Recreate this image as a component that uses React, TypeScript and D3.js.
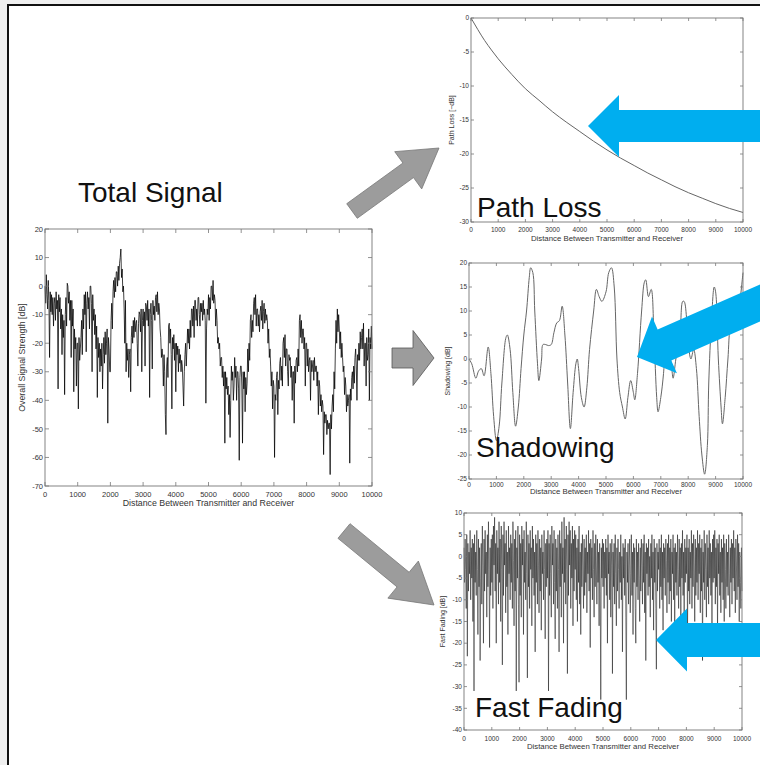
import React from "react";
import * as d3 from "d3";

const W = 760;
const H = 765;
const FONT = "'Liberation Sans', Arial, Helvetica, sans-serif";

// tick labels
const distTicks = [0, 1000, 2000, 3000, 4000, 5000, 6000, 7000, 8000, 9000, 10000];
const totalYTicks = [20, 10, 0, -10, -20, -30, -40, -50, -60, -70];
const pathYTicks = [0, -5, -10, -15, -20, -25, -30];
const shadowYTicks = [20, 15, 10, 5, 0, -5, -10, -15, -20, -25];
const fadeYTicks = [10, 5, 0, -5, -10, -15, -20, -25, -30, -35, -40];

// noisy series are sampled every STEP metres starting at 0
const STEP = 20;

// overall signal strength [dB], one row per 1000 m
const totalSignal = [
  0, -6, 4, -3, -8, 2, -5, -25, -2, -9, -3, -10, -4, -14, -6, -4, -12, -2, -8, -5,
  -36, -3, -9, -4, -15, -8, -24, -10, -18, -12, -38, -10, -4, -14, 1, 0, -6, -2, -12, -5,
  -25, -5, -14, -8, -37, -15, -22, -18, -35, -20,
  -20, -43, -18, -26, -22, -18, -12, -24, -8, -15, -3, -10, -2, -23, -6, -2, -8, -4, -15, 0,
  0, -6, -30, -3, -12, -8, -17, -10, -22, -14, -39, -18, -25, -20, -30, -22, -28, -20, -36, -24,
  -18, -27, -16, -24, -20, -15, -48, -18, -22, -30,
  -30, -12, -6, -15, -2, 2, -4, 3, -2, 5, 5, 0, 7, 2, 8, 10, 13, 3, 6, -2,
  0, -8, -20, -5, -30, -20, -26, -22, -32, -24, -22, -37, -18, -14, -20, -12, -18, -11, -16, -13,
  -12, -20, -28, -13, -9, -10, -16, -8, -30, -12,
  -8, -14, -9, -28, -6, -7, -12, -5, -14, -8, -39, -10, -6, -12, -29, -5, -10, -7, -12, -4,
  -3, -9, -2, -10, -6, -8, -15, -18, -25, -22, -25, -35, -24, -30, -45, -52, -28, -25, -32, -14,
  -13, -20, -15, -24, -43, -18, -22, -17, -26, -20,
  -37, -20, -24, -21, -30, -22, -27, -24, -30, -26, -28, -35, -42, -30, -24, -20, -28, -22, -15, -20,
  -15, -22, -12, -18, -8, -8, -14, -7, -18, -5, -5, -12, -8, -14, -4, -4, -10, -14, -6, -9,
  -6, -12, -5, -10, -8, -12, -41, -15, -8, -10,
  -3, -12, -4, -8, 0, 0, -5, 2, -6, -3, -5, -14, -8, -12, -20, -18, -22, -20, -28, -25,
  -25, -32, -28, -35, -30, -55, -30, -36, -32, -38, -35, -45, -38, -53, -40, -28, -33, -30, -40, -35,
  -25, -32, -28, -40, -30, -30, -36, -61, -32, -28,
  -28, -35, -55, -30, -36, -30, -44, -32, -38, -34, -22, -30, -20, -26, -12, -10, -18, -12, -16, -6,
  -4, -10, -3, -14, -8, -8, -14, -10, -16, -9, -7, -12, -5, -15, -9, -6, -13, -8, -12, -10,
  -12, -20, -15, -25, -22, -28, -35, -30, -43, -33,
  -35, -60, -38, -40, -32, -30, -45, -33, -36, -27, -25, -33, -28, -35, -20, -18, -25, -17, -28, -22,
  -22, -30, -35, -24, -26, -25, -32, -28, -40, -30, -30, -48, -28, -34, -26, -25, -30, -22, -28, -12,
  -10, -18, -12, -20, -15, -15, -22, -18, -35, -20,
  -20, -28, -22, -30, -26, -25, -40, -26, -30, -28, -26, -33, -25, -30, -28, -28, -35, -30, -45, -33,
  -35, -42, -38, -44, -40, -42, -59, -44, -48, -45, -45, -52, -47, -50, -48, -48, -66, -45, -50, -42,
  -38, -44, -30, -36, -22, -12, -20, -8, -16, -10,
  -15, -22, -16, -25, -20, -25, -30, -28, -38, -32, -35, -44, -38, -42, -40, -38, -62, -36, -40, -32,
  -30, -36, -28, -34, -25, -22, -28, -40, -24, -26, -20, -26, -16, -22, -18, -15, -22, -13, -28, -20,
  -20, -35, -18, -26, -24, -15, -40, -18, -22, -14,
  -22,
];

// fast fading [dB], one row per 1000 m
const fastFading = [
  2, -6, 4, -3, -12, 5, -23, 3, -8, 1, -4, 6, -10, 2, -5, 4, -15, 3, -31, 5,
  -6, 1, -9, 6, -3, -18, 4, -7, 2, -24, -5, 3, -11, 7, -2, -20, 4, -8, 6, -4,
  1, -14, 5, -7, 8, -3, -21, 2, -9, 4,
  -6, 5, -12, 7, -2, 9, -8, 3, -20, 6, -4, 2, -11, 8, -6, 4, -15, 7, -3, -25,
  5, -9, 8, -2, 3, -13, 6, -7, 1, -18, 7, -4, 2, -10, 5, -6, 3, -12, 8, -1,
  -16, 4, -8, 6, -31, 2, -5, 7, -11, -29,
  5, -9, 3, -14, 7, -2, 4, -18, 6, -6, 1, -10, 8, -4, -28, 5, -7, 3, -12, 6,
  -3, 2, -16, 7, -5, 4, -9, 1, -22, 5, -6, 3, -11, 6, -2, -13, 4, -8, 2, -17,
  5, -4, 1, -10, 6, -3, -19, 3, -7, 4,
  -5, 6, -31, 3, -9, 5, -4, -14, 7, -2, 3, -11, 6, -6, -19, 4, -8, 2, -12, 5,
  -3, -22, 6, -7, 3, -14, 8, -4, 2, -20, 9, -6, 4, -11, 7, -3, -27, 5, -9, 8,
  -2, 6, -12, 3, -5, 7, -16, 4, -8, 6,
  -3, 5, -10, 2, -15, 4, -6, 7, -11, 1, -18, 3, -7, 5, -2, -12, 4, -9, 2, -6,
  5, -13, 1, -4, 6, -8, 3, -21, 4, -5, 2, -10, 6, -3, -14, 3, -7, 5, -2, -11,
  4, -6, 1, -16, 3, -8, -33, 2, -5, 4,
  -7, 3, -12, 1, -5, 4, -9, 2, -20, 5, -4, 1, -10, 3, -14, -2, 4, -27, 1, -7,
  3, -11, 5, -4, -16, 2, -8, 4, -3, -12, 1, -6, 5, -10, 0, -22, 3, -5, 2, -9,
  4, -14, -33, 1, -6, 3, -11, -2, 4, -13,
  -4, 5, -9, 1, -18, 3, -6, 2, -12, -20, 4, -7, 1, -10, 3, -5, -15, 2, -8, 4,
  -2, -11, 3, -6, 5, -13, 1, -24, 3, -4, 2, -9, 4, -7, 0, -14, 3, -5, 5, -10,
  1, -17, 4, -6, 2, -12, -26, 3, -8, 1,
  -3, 4, -12, 2, -7, 5, -10, 1, -17, 3, -5, 2, -9, 4, -1, -13, 3, -6, 5, -11,
  2, -8, 4, -15, 1, -4, 5, -10, 2, -18, 3, -6, 1, -9, 5, -3, -12, 4, -7, 2,
  -14, 3, -5, 6, -9, 1, -16, 4, -6, 2,
  -4, 5, -18, 2, -8, 4, -11, 1, -5, 6, -12, 3, -7, 5, -2, -15, 4, -9, 2, -6,
  6, -10, 3, -4, 5, -13, 2, -8, 4, -24, 1, -6, 6, -10, 3, -3, -14, 5, -7, 2,
  -11, 6, -5, 3, -9, 1, -16, 4, -6, 5,
  -5, 6, -11, 2, -7, 4, -17, 3, -4, 5, -9, 1, -13, 4, -6, 2, -10, 5, -15, 3,
  -3, -12, 4, -7, 1, -9, 5, -4, -14, 2, -6, 4, -11, 3, -5, 6, -8, 2, -13, 4,
  -2, -10, 5, -7, 3, -15, 1, -6, -12, 2,
  -8,
];

const pathDist = [0, 250, 500, 750, 1000, 1500, 2000, 2500, 3000, 3500, 4000, 4500, 5000, 5500, 6000, 6500, 7000, 7500, 8000, 8500, 9000, 9500, 10000];
const pathLoss = [0, -1.7, -3.3, -4.7, -6, -8.3, -10.4, -12.1, -13.8, -15.3, -16.7, -18.1, -19.4, -20.6, -21.7, -22.8, -23.8, -24.8, -25.7, -26.5, -27.3, -28, -28.6];

const shadowDist = [
  0, 100, 250, 350, 450, 550, 700, 800, 900, 1000, 1100, 1200, 1350, 1400, 1500, 1600, 1700, 1800, 1900, 2000,
  2100, 2200, 2250, 2330, 2400, 2500, 2550, 2650, 2700, 2800, 2900, 3000, 3100, 3200, 3300, 3400, 3500, 3600, 3700, 3800,
  3900, 3950, 4000, 4100, 4200, 4300, 4400, 4550, 4650, 4750, 4850, 5000, 5100, 5200, 5300, 5400, 5500, 5600, 5700, 5800,
  5900, 6000, 6050, 6150, 6300, 6400, 6450, 6550, 6650, 6750, 6850, 6900, 7000, 7100, 7200, 7300, 7400, 7450, 7550, 7700,
  7800, 7850, 7950, 8050, 8100, 8200, 8300, 8400, 8500, 8600, 8700, 8750, 8850, 8950, 9000, 9100, 9200, 9250, 9350, 9450,
  9550, 9650, 9750, 9850, 10000,
];
const shadowDb = [
  0, -1, -4, -2.5, -2, -3.5, 2.5, -3, -12, -17, -14, -5, 4.5, 5, 2, -7, -14, -10, -2, 5,
  10, 17, 19, 18, 10, -1, -4.5, 0, 3, 3, 2.8, 3, 5.5, 7.5, 8, 11, 5, -5, -14.5, -7,
  -1, 0, -2, -8, -10, -6, 2, 10, 14.5, 13, 12, 14, 18, 19, 15, 0, -7, -10, -12.5, -8,
  -4.5, -7, -8.5, -3, 10, 16, 16.5, 13, 14.5, 5, -8, -11, -8, -3, 5, 2, -2, -4, 0, 5,
  12, 12, 8, 1, 0, 2, -2, -12, -20, -24, -18, -5, 8, 15, 14, 0, -10, -13.5, -8, 0,
  7, 8, 6, 10, 18,
];

type Box = { x: number; y: number; w: number; h: number };

type PanelProps = {
  box: Box;
  yDomain: [number, number];
  yTicks: number[];
  xs: number[];
  ys: number[];
  curve: d3.CurveFactory;
  stroke: string;
  strokeWidth: number;
  yLabel: string;
  tickFont: number;
  titleFont: number;
  yLabelFont: number;
  tickLen: number;
  xTickBase: number;
  xTitleBase: number;
  yLabelX: number;
};

function Panel(p: PanelProps) {
  const { box } = p;
  const x = d3.scaleLinear().domain([0, 10000]).range([box.x, box.x + box.w]);
  const y = d3.scaleLinear().domain(p.yDomain).range([box.y + box.h, box.y]);
  const line = d3
    .line<number>()
    .x((_, i) => x(p.xs[i]))
    .y((d) => y(d))
    .curve(p.curve);
  const axisCol = "#777";
  const textCol = "#333";
  return (
    <g>
      <path d={line(p.ys) || ""} fill="none" stroke={p.stroke} strokeWidth={p.strokeWidth} strokeLinejoin="round" />
      <rect x={box.x} y={box.y} width={box.w} height={box.h} fill="none" stroke={axisCol} strokeWidth={0.9} />
      {distTicks.map((t) => (
        <g key={"x" + t}>
          <line x1={x(t)} x2={x(t)} y1={box.y + box.h} y2={box.y + box.h - p.tickLen} stroke={axisCol} strokeWidth={0.8} />
          <line x1={x(t)} x2={x(t)} y1={box.y} y2={box.y + p.tickLen} stroke={axisCol} strokeWidth={0.8} />
          <text x={x(t)} y={p.xTickBase} textAnchor="middle" fontSize={p.tickFont} fill={textCol} fontFamily={FONT}>
            {t}
          </text>
        </g>
      ))}
      {p.yTicks.map((t) => (
        <g key={"y" + t}>
          <line x1={box.x} x2={box.x + p.tickLen} y1={y(t)} y2={y(t)} stroke={axisCol} strokeWidth={0.8} />
          <line x1={box.x + box.w} x2={box.x + box.w - p.tickLen} y1={y(t)} y2={y(t)} stroke={axisCol} strokeWidth={0.8} />
          <text x={box.x - 2} y={y(t)} dy="0.35em" textAnchor="end" fontSize={p.tickFont} fill={textCol} fontFamily={FONT}>
            {t}
          </text>
        </g>
      ))}
      <text x={box.x + box.w / 2} y={p.xTitleBase} textAnchor="middle" fontSize={p.titleFont} fill={textCol} fontFamily={FONT}>
        Distance Between Transmitter and Receiver
      </text>
      <text
        transform={`translate(${p.yLabelX},${box.y + box.h / 2}) rotate(-90)`}
        textAnchor="middle"
        fontSize={p.yLabelFont}
        fill={textCol}
        fontFamily={FONT}
      >
        {p.yLabel}
      </text>
    </g>
  );
}

function arrowPath(tail: [number, number], tip: [number, number], shaftW: number, headW: number, headL: number) {
  const dx = tip[0] - tail[0];
  const dy = tip[1] - tail[1];
  const L = Math.hypot(dx, dy);
  const ux = dx / L;
  const uy = dy / L;
  const px = -uy;
  const py = ux;
  const bx = tip[0] - ux * headL;
  const by = tip[1] - uy * headL;
  const pts = [
    [tail[0] + (px * shaftW) / 2, tail[1] + (py * shaftW) / 2],
    [bx + (px * shaftW) / 2, by + (py * shaftW) / 2],
    [bx + (px * headW) / 2, by + (py * headW) / 2],
    tip,
    [bx - (px * headW) / 2, by - (py * headW) / 2],
    [bx - (px * shaftW) / 2, by - (py * shaftW) / 2],
    [tail[0] - (px * shaftW) / 2, tail[1] - (py * shaftW) / 2],
  ];
  return "M" + pts.map((q) => q.join(",")).join("L") + "Z";
}

export default function App() {
  const idx = (arr: number[]) => arr.map((_, i) => i * STEP);
  const grayFill = "#9c9c9c";
  const blue = "#00AEEF";
  const bigFont = 28;

  return (
    <div style={{ position: "fixed", left: 0, top: 0, width: W, height: H, overflow: "hidden" }}>
      <svg width={W} height={H} style={{ display: "block" }}>
        <rect x={0} y={0} width={W} height={H} fill="#efefef" />
        <rect x={8} y={5} width={W + 20} height={H + 20} fill="#ffffff" stroke="#111" strokeWidth={2} />

        <Panel
          box={{ x: 45, y: 229, w: 327, h: 257 }}
          yDomain={[-70, 20]}
          yTicks={totalYTicks}
          xs={idx(totalSignal)}
          ys={totalSignal}
          curve={d3.curveLinear}
          stroke="#000"
          strokeWidth={0.75}
          yLabel="Overall Signal Strength [dB]"
          tickFont={7.5}
          titleFont={8.8}
          yLabelFont={8.8}
          tickLen={4}
          xTickBase={497}
          xTitleBase={506}
          yLabelX={25}
        />

        <Panel
          box={{ x: 471, y: 18, w: 272, h: 204 }}
          yDomain={[-30, 0]}
          yTicks={pathYTicks}
          xs={pathDist}
          ys={pathLoss}
          curve={d3.curveMonotoneX}
          stroke="#666"
          strokeWidth={1}
          yLabel="Path Loss [−dB]"
          tickFont={6.5}
          titleFont={7.8}
          yLabelFont={7}
          tickLen={3}
          xTickBase={232}
          xTitleBase={241}
          yLabelX={454}
        />

        <Panel
          box={{ x: 469, y: 263, w: 274, h: 216 }}
          yDomain={[-25, 20]}
          yTicks={shadowYTicks}
          xs={shadowDist}
          ys={shadowDb}
          curve={d3.curveCatmullRom}
          stroke="#666"
          strokeWidth={1}
          yLabel="Shadowing [dB]"
          tickFont={6.5}
          titleFont={7.8}
          yLabelFont={7}
          tickLen={3}
          xTickBase={487}
          xTitleBase={494}
          yLabelX={450}
        />

        <Panel
          box={{ x: 464, y: 513, w: 278, h: 217 }}
          yDomain={[-40, 10]}
          yTicks={fadeYTicks}
          xs={idx(fastFading)}
          ys={fastFading}
          curve={d3.curveLinear}
          stroke="#1a1a1a"
          strokeWidth={0.55}
          yLabel="Fast Fading [dB]"
          tickFont={6.5}
          titleFont={7.8}
          yLabelFont={7}
          tickLen={3}
          xTickBase={741}
          xTitleBase={749}
          yLabelX={445}
        />

        {/* big labels */}
        <text x={78} y={202} fontSize={bigFont} fontFamily={FONT} fill="#111">Total Signal</text>
        <text x={477} y={217} fontSize={bigFont} fontFamily={FONT} fill="#111">Path Loss</text>
        <text x={476} y={457} fontSize={bigFont} fontFamily={FONT} fill="#111">Shadowing</text>
        <text x={475} y={717} fontSize={bigFont} fontFamily={FONT} fill="#111">Fast Fading</text>

        {/* gray arrows */}
        <path d={arrowPath([352, 211], [439, 148], 18, 46, 38)} fill={grayFill} stroke="#777" strokeWidth={0.8} />
        <path d={arrowPath([392, 358], [434, 358], 20, 55, 21)} fill={grayFill} stroke="#555" strokeWidth={0.8} />
        <path d={arrowPath([344, 531], [434, 605], 19, 48, 40)} fill={grayFill} stroke="#777" strokeWidth={0.8} />

        {/* blue arrows */}
        <path d={arrowPath([790, 126], [588, 126], 32, 62, 31)} fill={blue} />
        <path d={arrowPath([800, 285.5], [637, 357], 34, 62, 30)} fill={blue} />
        <path d={arrowPath([790, 640], [656, 640], 34, 63, 31)} fill={blue} />
      </svg>
    </div>
  );
}
